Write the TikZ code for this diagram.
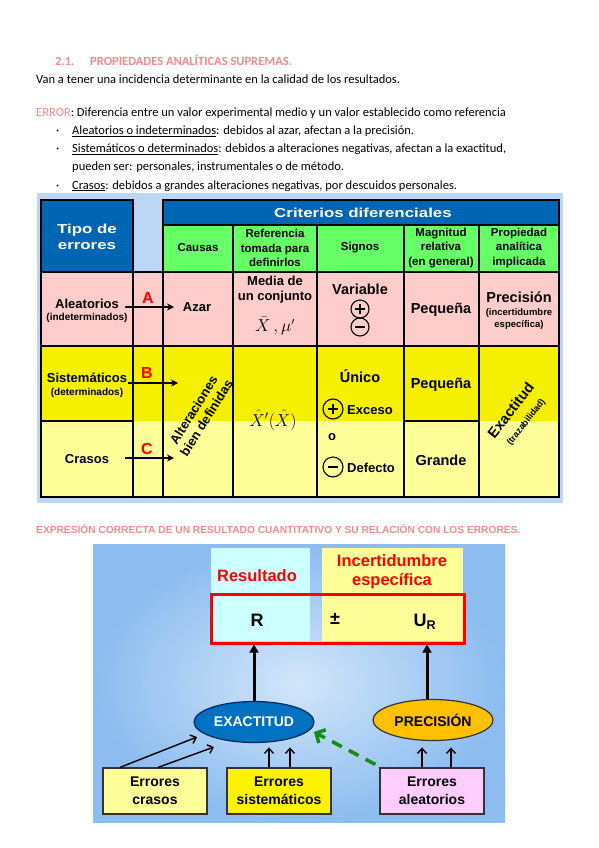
\documentclass[tikz,border=0pt]{standalone}
\usepackage{fontspec}
\setmainfont{Carlito}
\newfontfamily\arialfont{Liberation Sans}
\newfontfamily\blackfont[FakeStretch=1.3]{Liberation Sans}
\usetikzlibrary{arrows.meta,shapes.geometric}
\definecolor{headpink}{RGB}{242,140,140}
\definecolor{tabblue}{RGB}{0,102,180}
\definecolor{tabgreen}{RGB}{102,255,102}
\definecolor{tabpink}{RGB}{255,204,204}
\definecolor{tabyellow}{RGB}{245,240,0}
\definecolor{tablight}{RGB}{255,255,153}
\definecolor{panelblue}{RGB}{188,214,245}
\definecolor{skyinner}{RGB}{210,230,250}
\definecolor{skyouter}{RGB}{140,188,240}
\definecolor{resultcyan}{RGB}{204,255,255}
\definecolor{exactblue}{RGB}{0,112,192}
\definecolor{exactedge}{RGB}{0,40,90}
\definecolor{precorange}{RGB}{255,192,0}
\definecolor{aleatpink}{RGB}{255,204,255}
\definecolor{dashgreen}{RGB}{20,140,20}
\tikzset{
  bodytext/.style={anchor=base west,inner sep=0pt,font=\fontsize{12.5}{15}\selectfont},
  tabline/.style={line width=1.2pt},
  celltext/.style={align=center,inner sep=0pt,font=\arialfont\bfseries\fontsize{13}{15}\selectfont},
  headtext/.style={align=center,inner sep=0pt,font=\arialfont\bfseries\fontsize{11.5}{14.5}\selectfont},
  bigcell/.style={celltext,font=\arialfont\bfseries\fontsize{14.5}{17}\selectfont},
  smallcell/.style={celltext,font=\arialfont\bfseries\fontsize{9.5}{11.5}\selectfont},
  widehead/.style={align=center,inner sep=0pt,text=white,font=\blackfont\bfseries\fontsize{13}{16}\selectfont},
  redletter/.style={text=red,inner sep=0pt,font=\arialfont\bfseries\fontsize{16}{18}\selectfont},
  tabarrow/.style={line width=1.3pt,-{Stealth[length=7pt,width=7pt]}},
  signcircle/.style={circle,draw,line width=1.1pt,inner sep=0pt,minimum size=#1},
  redlabel/.style={text=red,align=center,inner sep=0pt,font=\arialfont\bfseries\fontsize{16.5}{19}\selectfont},
  bigletter/.style={inner sep=0pt,font=\arialfont\bfseries\fontsize{18}{20}\selectfont},
  errbox/.style={draw=black!80,line width=1.2pt,minimum width=104pt,minimum height=46pt,align=center,
    font=\arialfont\bfseries\fontsize{14}{18}\selectfont},
  propellipse/.style={ellipse,line width=1.2pt,minimum width=120pt,minimum height=41pt,inner sep=0pt,
    font=\arialfont\bfseries\fontsize{14}{16}\selectfont},
  bigarrow/.style={line width=3pt,-{Triangle[length=8pt,width=9pt]}},
  smallarrow/.style={line width=1.4pt,-{Straight Barb[length=5pt,width=9pt]}},
  guessarrow/.style={line width=3.5pt,dashgreen,dash pattern=on 11pt off 8pt,-{Straight Barb[length=7pt,width=15pt]}}
}
\begin{document}
\begin{tikzpicture}[x=1pt,y=-1pt]
  \useasboundingbox[fill=white] (0,0) rectangle (599,848);
  % text of the page
  \node[bodytext,text=headpink,font=\bfseries\fontsize{12.5}{15}\selectfont] (secnum) at (55,66) {2.1.};
  \node[bodytext,text=headpink,font=\bfseries\fontsize{12.5}{15}\selectfont] (sectitle) at (90,66) {PROPIEDADES ANALÍTICAS SUPREMAS.};
  \node[bodytext] (intro) at (36,84) {Van a tener una incidencia determinante en la calidad de los resultados.};
  \node[bodytext] (errdef) at (36,117) {\textcolor{headpink}{ERROR}: Diferencia entre un valor experimental medio y un valor establecido como referencia};
  \foreach \by in {135,153,189} \node[bodytext] at (56,\by) {·};
  \node[bodytext] (itemA) at (72,135) {\underline{Aleatorios o indeterminados}: debidos al azar, afectan a la precisión.};
  \node[bodytext] (itemB) at (72,153) {\underline{Sistemáticos o determinados}: debidos a alteraciones negativas, afectan a la exactitud,};
  \node[bodytext] (itemBb) at (72,170) {pueden ser: personales, instrumentales o de método.};
  \node[bodytext] (itemC) at (72,189) {\underline{Crasos}: debidos a grandes alteraciones negativas, por descuidos personales.};

  % table of error types
  \fill[panelblue] (37,193) rectangle (563,503);
  \draw[tabline,fill=tabblue] (41,200) rectangle (133,272);
  \draw[tabline,fill=tabblue] (163,200) rectangle (559,225);
  \draw[tabline,fill=tabgreen] (163,225) rectangle (559,272);
  \fill[tabpink] (41,272) rectangle (559,346);
  \fill[tabyellow] (41,346) rectangle (559,421);
  \fill[tablight] (41,421) rectangle (559,497);
  \draw[tabline] (41,272) rectangle (559,497);
  \foreach \cx in {233,317,404,479} \draw[tabline] (\cx,225) -- (\cx,497);
  \foreach \cx in {133,163} \draw[tabline] (\cx,272) -- (\cx,497);
  \draw[tabline] (41,346) -- (559,346);
  \draw[tabline] (41,421) -- (133,421) (404,421) -- (479,421);

  \node[widehead] (tipo) at (87,237) {Tipo de\\errores};
  \node[widehead] (criterios) at (363,213) {Criterios diferenciales};
  \node[headtext] (causas) at (198,248) {Causas};
  \node[headtext] (referencia) at (275,248) {Referencia\\tomada para\\definirlos};
  \node[headtext] (signos) at (360,248) {Signos};
  \node[headtext] (magnitud) at (441,248) {Magnitud\\relativa\\(en general)};
  \node[headtext] (propiedad) at (519,248) {Propiedad\\analítica\\implicada};

  % random errors
  \node[celltext] (aleatname) at (87,304) {Aleatorios};
  \node[smallcell,font=\arialfont\bfseries\fontsize{10}{12}\selectfont] (aleatsub) at (87,318) {(indeterminados)};
  \node[celltext] (azar) at (197,307) {Azar};
  \node[celltext] (media) at (275,290) {Media de\\un conjunto};
  \node[inner sep=0pt,font=\fontsize{16}{18}\selectfont] (xbar) at (275,326) {$\bar{X}\,,\mu'$};
  \node[bigcell] (variable) at (360,289) {Variable};
  \node[signcircle=18pt] (plusA) at (360,309) {};
  \node[signcircle=18pt] (minusA) at (360,327) {};
  \node[bigcell] (pequenaA) at (441,310) {Pequeña};
  \node[bigcell] (precision) at (519,297) {Precisión};
  \node[smallcell] (precsub) at (519,319) {(incertidumbre\\específica)};

  % systematic and gross errors
  \node[celltext] (sistname) at (87,378) {Sistemáticos};
  \node[smallcell,font=\arialfont\bfseries\fontsize{10}{12}\selectfont] (sistsub) at (87,393) {(determinados)};
  \node[celltext] (crasosname) at (87,459) {Crasos};
  \node[celltext,rotate=58] (alteraciones) at (200,414) {Alteraciones\\bien definidas};
  \node[inner sep=0pt,font=\fontsize{18}{20}\selectfont] (xhat) at (273,420) {$\hat{X}'(\hat{X})$};
  \node[bigcell] (unico) at (360,376) {Único};
  \node[signcircle=20pt] (plusB) at (333,409) {};
  \node[celltext,anchor=west] (exceso) at (347,410) {Exceso};
  \node[celltext] (ochoice) at (332,437) {o};
  \node[signcircle=20pt] (minusB) at (333,467) {};
  \node[celltext,anchor=west] (defecto) at (347,468) {Defecto};
  \node[bigcell] (pequenaB) at (441,385) {Pequeña};
  \node[bigcell] (grande) at (441,460) {Grande};
  \node[bigcell,rotate=52] (exactitud) at (518,416) {Exactitud\\{\fontsize{9}{10}\selectfont(trazabilidad)}};
  \foreach \s in {plusA,minusA,plusB,minusB}
    \draw[line width=1.3pt] ([xshift=-5pt]\s.center) -- ([xshift=5pt]\s.center);
  \foreach \s in {plusA,plusB}
    \draw[line width=1.3pt] ([yshift=-5pt]\s.center) -- ([yshift=5pt]\s.center);

  \node[redletter] (letA) at (148,298) {A};
  \node[redletter] (letB) at (147,373) {B};
  \node[redletter] (letC) at (147,449) {C};
  \coordinate (tipA) at (174,307);
  \coordinate (tipB) at (178,383);
  \coordinate (tipC) at (174,458);
  \draw[tabarrow,shorten <=6pt] (aleatname.east |- tipA) -- (tipA);
  \draw[tabarrow,shorten <=1pt] (sistname.east |- tipB) -- (tipB);
  \draw[tabarrow,shorten <=16pt] (crasosname.east |- tipC) -- (tipC);

  % result and its relation with the errors
  \node[bodytext,text=headpink,font=\arialfont\bfseries\fontsize{10.2}{12}\selectfont] (sectwo) at (36,533)
    {EXPRESIÓN CORRECTA DE UN RESULTADO CUANTITATIVO Y SU RELACIÓN CON LOS ERRORES.};
  \shade[inner color=skyinner,outer color=skyouter] (93,544) rectangle (505,822);
  \fill[resultcyan] (211,548) rectangle (310,641);
  \fill[tablight] (322,548) rectangle (463,641);
  \node[draw=red,line width=2.6pt,minimum width=253pt,minimum height=49pt,anchor=north west,inner sep=0pt] (redbox) at (210,593) {};
  \node[redlabel] (resultado) at (257,576) {Resultado};
  \node[redlabel] (incert) at (392,572) {Incertidumbre\\específica};
  \node[bigletter] (rvalue) at (257,620) {R};
  \node[bigletter] (pm) at (335,619) {±};
  \node[bigletter] (uvalue) at (425,622) {U\textsubscript{R}};

  \node[propellipse,draw=exactedge,fill=exactblue,text=white] (exact) at (254,722) {EXACTITUD};
  \node[propellipse,draw=black!80,fill=precorange] (precis) at (433,720) {PRECISIÓN};
  \draw[bigarrow] (exact) -- (exact |- redbox.south);
  \draw[bigarrow] ([xshift=-6pt]precis.north) -- ([xshift=-6pt]precis.north |- redbox.south);

  \node[errbox,fill=tablight] (crasos) at (155,791) {Errores\\crasos};
  \node[errbox,fill=yellow] (sistem) at (279,791) {Errores\\sistemáticos};
  \node[errbox,fill=aleatpink] (aleat) at (432,791) {Errores\\aleatorios};
  \draw[smallarrow] ([xshift=-35pt]crasos.north) -- ([shift={(-57,15)}]exact.center);
  \draw[smallarrow] ([xshift=3pt]crasos.north) -- ([shift={(-40,25)}]exact.center);
  \draw[smallarrow] ([xshift=-10pt]sistem.north) -- ++(0,-20);
  \draw[smallarrow] ([xshift=11pt]sistem.north) -- ++(0,-20);
  \draw[smallarrow] ([xshift=-10pt]aleat.north) -- ++(0,-20);
  \draw[smallarrow] ([xshift=19pt]aleat.north) -- ++(0,-20);
  \draw[guessarrow] ([shift={(-4,-3)}]aleat.north west) -- ([shift={(60,10)}]exact.center);
\end{tikzpicture}
\end{document}
